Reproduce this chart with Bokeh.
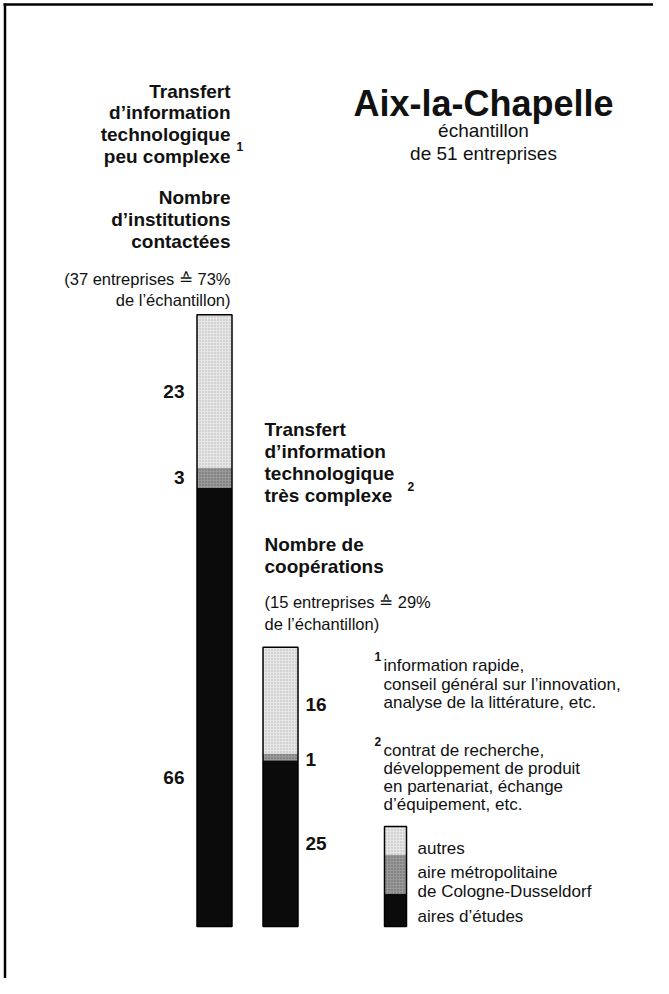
from bokeh.plotting import figure
from bokeh.models import Range1d
from bokeh.core.properties import value
from bokeh.embed import file_html
from bokeh.resources import INLINE
import numpy as np

# ---------------- data ----------------
segments = ["aires d’études", "aire métropolitaine de Cologne-Dusseldorf", "autres"]
peu_complexe = [66, 3, 23]      # institutions contactées (37 entreprises)
tres_complexe = [25, 1, 16]     # coopérations (15 entreprises)
legend_labels = ["autres", "aire métropolitaine", "de Cologne-Dusseldorf", "aires d’études"]

# ---------------- layout constants ----------------
W, H = 653, 978
BASE = 926.0      # pixel y of bar base
PPU = 6.65        # pixels per unit
fills = ["#0b0b0b", "#9a9a9a", "#e6e6e6"]
hatches = [None, "dot", "dot"]
hatch_cols = ["#000000", "#444444", "#a0a0a0"]

p = figure(width=W, height=H, output_backend="svg", toolbar_location=None,
           x_range=Range1d(0, W), y_range=Range1d(H, 0),
           min_border=0, outline_line_color=None, background_fill_color="white",
           border_fill_color="white")
p.axis.visible = False
p.grid.visible = False
p.extra_y_ranges = {"val": Range1d(-(H - BASE) / PPU, BASE / PPU)}

# frame
p.line(x=[4.5, 4.5], y=[3, H], line_color="black", line_width=2.5)
p.line(x=[3, W], y=[4, 4], line_color="black", line_width=2.5)

# bars
bar_x = [214, 280]
bar_w = 35
for bx, vals in zip(bar_x, [peu_complexe, tres_complexe]):
    tops = np.cumsum(vals)
    bots = tops - np.array(vals)
    for i in range(len(vals)):
        kw = dict(fill_color=fills[i], line_color=None)
        if hatches[i]:
            kw.update(hatch_pattern=hatches[i], hatch_color=hatch_cols[i], hatch_scale=3, hatch_alpha=0.7)
        p.vbar(x=[bx], width=bar_w, bottom=[bots[i]], top=[tops[i]], y_range_name="val", **kw)
    p.vbar(x=[bx], width=bar_w, bottom=[0], top=[tops[-1]], y_range_name="val",
           fill_color=None, line_color="black", line_width=1.5)

def txt(x, y, s, size, bold=False, align="left", font="Liberation Sans", **kw):
    p.text(x=[x], y=[y], text=[s], text_font=value(font), text_font_size=f"{size}px",
           text_font_style="bold" if bold else "normal", text_align=align,
           text_baseline="alphabetic", text_color="#111111", **kw)

# bar value labels
lab_offsets = [[70, 0, 0], [0, 3, 4]]
lab_x = [184, 305]
lab_align = ["right", "left"]
for j, vals in enumerate([peu_complexe, tres_complexe]):
    tops = np.cumsum(vals)
    mids = tops - np.array(vals) / 2.0
    for i, v in enumerate(vals):
        p.text(x=[lab_x[j]], y=[mids[i]], text=[str(v)], y_range_name="val", y_offset=lab_offsets[j][i],
               text_font=value("Liberation Sans"), text_font_style="bold", text_font_size="19px",
               text_align=lab_align[j], text_baseline="middle", text_color="#111111")

# title
txt(483, 103, "Aix-la-Chapelle", 36, bold=True, align="center")
txt(483, 130, "échantillon", 19, align="center")
txt(483, 153, "de 51 entreprises", 19, align="center")

# left block
for s, y in zip(["Transfert", "d’information", "technologique", "peu complexe"], [91, 112, 134, 156]):
    txt(230, y, s, 19, bold=True, align="right")
txt(236, 146, "1", 12, bold=True)
for s, y in zip(["Nombre", "d’institutions", "contactées"], [197, 219, 241]):
    txt(230, y, s, 19, bold=True, align="right")
for s, y in zip(["(37 entreprises ≙ 73%", "de l’échantillon)"], [278, 299]):
    txt(230, y, s, 16.5, align="right")

# right block
for s, y in zip(["Transfert", "d’information", "technologique", "très complexe"], [429, 451, 473, 495]):
    txt(264, y, s, 19, bold=True)
txt(407, 486, "2", 12, bold=True)
for s, y in zip(["Nombre de", "coopérations"], [544, 566]):
    txt(264, y, s, 19, bold=True)
for s, y in zip(["(15 entreprises ≙ 29%", "de l’échantillon)"], [601, 623]):
    txt(264, y, s, 16.5)

# footnotes
txt(374, 656, "1", 12, bold=True)
for s, y in zip(["information rapide,", "conseil général sur l’innovation,", "analyse de la littérature, etc."],
                [665, 684, 702]):
    txt(383, y, s, 17)
txt(374, 741, "2", 12, bold=True)
for s, y in zip(["contrat de recherche,", "développement de produit", "en partenariat, échange", "d’équipement, etc."],
                [750, 768, 786, 804]):
    txt(383, y, s, 17)

# legend
leg_x0, leg_x1 = 384, 406
leg_edges = [926, 893, 854, 826]
for i in range(3):
    kw = dict(fill_color=fills[i], line_color=None)
    if hatches[i]:
        kw.update(hatch_pattern=hatches[i], hatch_color=hatch_cols[i], hatch_scale=3, hatch_alpha=0.7)
    p.quad(left=[leg_x0], right=[leg_x1], bottom=[leg_edges[i]], top=[leg_edges[i + 1]], **kw)
p.quad(left=[leg_x0], right=[leg_x1], bottom=[leg_edges[0]], top=[leg_edges[-1]],
       fill_color=None, line_color="black", line_width=1.5)
for s, y in zip(legend_labels, [848, 872, 891, 916]):
    txt(417, y, s, 17)

open("out.html", "w").write(file_html(p, INLINE))
